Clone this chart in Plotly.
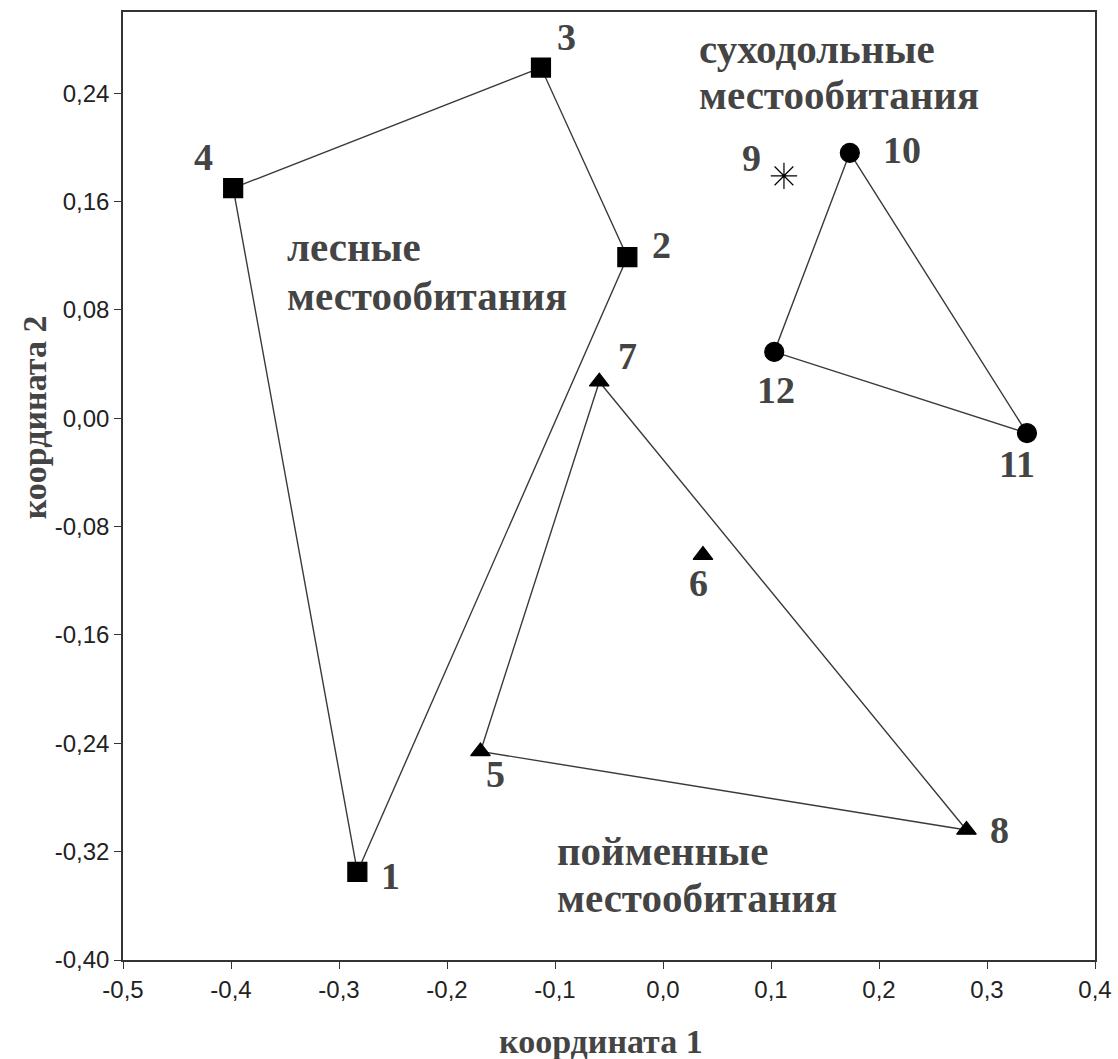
import plotly.graph_objects as go

# point ids, coordinates, group
ids = ["1", "2", "3", "4", "5", "6", "7", "8", "9", "10", "11", "12"]
x_vals = [-0.283, -0.033, -0.113, -0.398, -0.169, 0.037, -0.059, 0.281, 0.112, 0.173, 0.337, 0.103]
y_vals = [-0.335, 0.119, 0.259, 0.170, -0.246, -0.101, 0.027, -0.304, 0.179, 0.196, -0.011, 0.049]
groups = ["forest", "forest", "forest", "forest", "flood", "flood", "flood", "flood", "single", "dry", "dry", "dry"]

# hull orders (closed polygons)
forest_hull = ["4", "3", "2", "1", "4"]
flood_hull = ["7", "8", "5", "7"]
dry_hull = ["10", "11", "12", "10"]

x_ticks = [-0.5, -0.4, -0.3, -0.2, -0.1, 0.0, 0.1, 0.2, 0.3, 0.4]
x_tick_text = ["-0,5", "-0,4", "-0,3", "-0,2", "-0,1", "0,0", "0,1", "0,2", "0,3", "0,4"]
y_ticks = [-0.40, -0.32, -0.24, -0.16, -0.08, 0.0, 0.08, 0.16, 0.24]
y_tick_text = ["-0,40", "-0,32", "-0,24", "-0,16", "-0,08", "0,00", "0,08", "0,16", "0,24"]

x_title = "координата 1"
y_title = "координата 2"
habitat_lines = [["лесные", "местообитания"], ["пойменные", "местообитания"], ["суходольные", "местообитания"]]

# label offsets (pixels) for the point numbers
label_dx = [33, 34, 26, -30, 15, -4, 28, 33, -32, 52, -10, 2]
label_dy = [-4, 12, 31, 31, -23, -28, 26, 0, 18, 3, -31, -38]

pos = {k: (x, y) for k, x, y in zip(ids, x_vals, y_vals)}
LINE = "#3a3a3a"
TXT = "#444444"
SERIF = "Liberation Serif, Times New Roman, serif"

fig = go.Figure()
for hull in (forest_hull, flood_hull, dry_hull):
    fig.add_trace(go.Scatter(x=[pos[k][0] for k in hull], y=[pos[k][1] for k in hull],
                             mode="lines", line=dict(color=LINE, width=1.4),
                             hoverinfo="skip", showlegend=False))

sym_map = {"forest": "square", "flood": "triangle-up", "dry": "circle", "single": "asterisk-open"}
size_map = {"forest": 19, "flood": 17, "dry": 19, "single": 22}
for g in ["forest", "flood", "dry", "single"]:
    xs = [x for x, gg in zip(x_vals, groups) if gg == g]
    ys = [y for y, gg in zip(y_vals, groups) if gg == g]
    fig.add_trace(go.Scatter(x=xs, y=ys, mode="markers",
                             marker=dict(symbol=sym_map[g], size=size_map[g], color="black",
                                         line=dict(color="black", width=1.2)),
                             showlegend=False))

for k, dx, dy in zip(ids, label_dx, label_dy):
    fig.add_annotation(x=pos[k][0], y=pos[k][1], text="<b>%s</b>" % k, showarrow=False,
                       xshift=dx, yshift=dy, font=dict(family=SERIF, size=38, color=TXT))

hab_x = [-0.350, -0.100, 0.0315]
hab_y = [[0.1262, 0.0900], [-0.3195, -0.3542], [0.2725, 0.2385]]
for lines, hx, hys in zip(habitat_lines, hab_x, hab_y):
    for t, hy in zip(lines, hys):
        fig.add_annotation(x=hx, y=hy, text="<b>%s</b>" % t, showarrow=False, xanchor="left",
                           yanchor="middle", font=dict(family=SERIF, size=41, color=TXT))

fig.add_annotation(xref="paper", yref="paper", x=0.492, y=-0.086, xanchor="center", yanchor="middle",
                   text="<b>%s</b>" % x_title, showarrow=False,
                   font=dict(family=SERIF, size=34, color=TXT))
fig.add_annotation(xref="paper", yref="paper", x=-0.091, y=0.572, xanchor="center", yanchor="middle",
                   text="<b>%s</b>" % y_title, showarrow=False, textangle=-90,
                   font=dict(family=SERIF, size=34, color=TXT))

axis_common = dict(showgrid=False, zeroline=False, showline=True, linecolor="#333", linewidth=1.5,
                   ticks="outside", ticklen=7, tickcolor="#333", mirror=True, automargin=False,
                   tickfont=dict(family="Liberation Sans, Arial, sans-serif", size=24, color="#222"))
fig.update_xaxes(range=[-0.5, 0.4], tickvals=x_ticks, ticktext=x_tick_text, **axis_common)
fig.update_yaxes(range=[-0.40, 0.30], tickvals=y_ticks, ticktext=y_tick_text, **axis_common)

fig.update_layout(width=1118, height=1059, plot_bgcolor="white", paper_bgcolor="white",
                  margin=dict(l=123, r=23, t=12, b=99), showlegend=False)
fig.write_html("out.html", config={"displayModeBar": False},
               post_script="document.body.style.margin='0px';document.body.style.overflow='hidden';")
